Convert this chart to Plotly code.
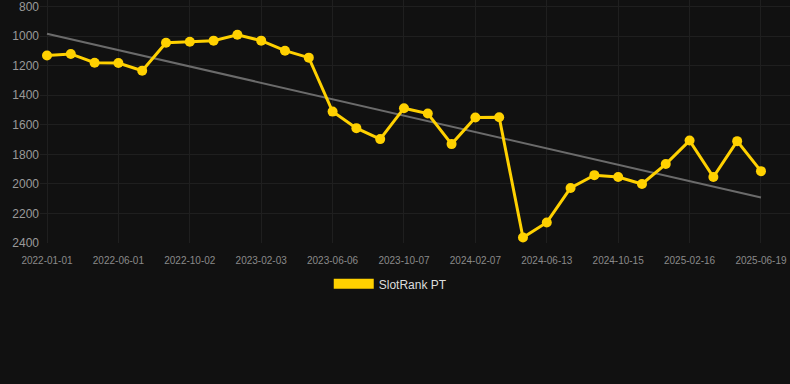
import plotly.graph_objects as go

# Data
tick_labels = ["2022-01-01", "2022-06-01", "2022-10-02", "2023-02-03", "2023-06-06",
               "2023-10-07", "2024-02-07", "2024-06-13", "2024-10-15", "2025-02-16", "2025-06-19"]
rank_values = [1132, 1121, 1180, 1182, 1234, 1045, 1038, 1031, 991, 1031,
               1099, 1146, 1511, 1623, 1697, 1488, 1524, 1731, 1551, 1549,
               2363, 2261, 2028, 1941, 1954, 2001, 1866, 1707, 1954, 1711, 1914]
trend_values = [984, 2092]
y_ticks = [800, 1000, 1200, 1400, 1600, 1800, 2000, 2200, 2400]
series_name = "SlotRank PT"

idx = list(range(len(rank_values)))
tick_pos = idx[::3]

YELLOW = "#FFD100"
BG = "#111111"

fig = go.Figure()
fig.add_trace(go.Scatter(
    x=[idx[0], idx[-1]], y=trend_values, mode="lines",
    line=dict(color="#6b6b6b", width=2), showlegend=False, hoverinfo="skip"))
fig.add_trace(go.Scatter(
    x=idx, y=rank_values, mode="lines+markers",
    line=dict(color=YELLOW, width=3),
    marker=dict(color=YELLOW, size=10),
    showlegend=False))
fig.add_trace(go.Scatter(
    x=[None], y=[None], mode="lines", name=series_name,
    line=dict(color=YELLOW, width=12), showlegend=True))

fig.update_layout(
    width=790, height=384,
    paper_bgcolor=BG, plot_bgcolor=BG,
    margin=dict(l=40, r=0, t=0, b=141),
    font=dict(family="Arial, Liberation Sans, sans-serif", color="#999999"),
    showlegend=True,
    legend=dict(orientation="h", x=0.385, xanchor="left", y=-0.168, yanchor="middle",
                font=dict(size=12, color="#dddddd"), itemwidth=40,
                bgcolor="rgba(0,0,0,0)"),
)
fig.update_xaxes(
    range=[-0.294, 31.22], tickmode="array", tickvals=tick_pos, ticktext=tick_labels,
    showgrid=True, gridcolor="#1f1f1f", gridwidth=1, zeroline=False,
    tickfont=dict(size=10, color="#8a8a8a"), ticks="outside", ticklen=8,
    tickcolor="rgba(0,0,0,0)", showline=False, ticklabeloverflow="allow")
fig.update_yaxes(
    range=[2400, 756], tickmode="array", tickvals=y_ticks,
    showgrid=True, gridcolor="#1f1f1f", gridwidth=1, zeroline=False,
    tickfont=dict(size=12, color="#9a9a9a"), ticks="", showline=False,
    ticklabeloverflow="allow")

fig.write_html("out.html", config={"displayModeBar": False},
               post_script="document.body.style.margin='0';")
